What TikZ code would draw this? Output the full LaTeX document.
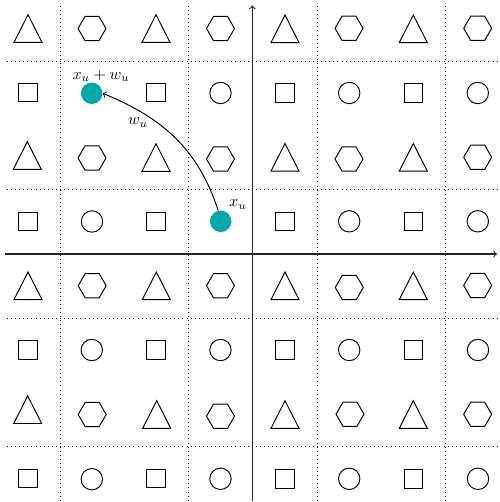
\documentclass[tikz,border=0pt]{standalone}
\usepackage{tikz}
\definecolor{tealc}{RGB}{0,170,170}
\tikzset{
  shapeline/.style={draw=black, line width=0.6pt, line join=miter},
  dotline/.style={draw=black, line width=0.55pt, dotted},
  axisline/.style={draw=black!85, line width=0.65pt},
  arrowline/.style={draw=black, line width=0.6pt},
  tealdot/.style={circle, fill=tealc, draw=none, minimum size=13.4pt, inner sep=0pt},
  lab/.style={inner sep=0pt},
  tri/.pic={\draw[shapeline] (0,-13.8) -- (14,13.8) -- (-14,13.8) -- cycle;},
  hex/.pic={\draw[shapeline] (14,0) -- (7,12.1) -- (-7,12.1) -- (-14,0) -- (-7,-12.1) -- (7,-12.1) -- cycle;},
  sqr/.pic={\draw[shapeline] (-9.35,-9.35) rectangle (9.35,9.35);},
  rnd/.pic={\draw[shapeline] (0,0) circle[radius=10.7];}
}
\begin{document}
\begin{tikzpicture}[x=0.625pt,y=-0.625pt]
\useasboundingbox (0,0) rectangle (500,502);
% dotted grid
\foreach \gx in {60,188.7,317.7,445.7} {\draw[dotline] (\gx,6) -- (\gx,501);}
\foreach \gy in {61,189.3,318.3,446.7} {\draw[dotline] (7,\gy) -- (500,\gy);}
% axes
\coordinate (axL) at (5,254);
\coordinate (axR) at (497,254);
\coordinate (axB) at (252.3,501);
\coordinate (axT) at (252.3,5.5);
\draw[axisline,->] (axL) -- (axR);
\draw[axisline,->] (axB) -- (axT);
% triangles
\foreach \px/\py in {28/28.5,156/28.5,285/28.8,413.3/28.8,
  27.3/155.5,156/157.5,285/157.3,413.3/157.3,
  28/285.8,156.3/285.8,285/285.8,413.3/285.8,
  27.7/409.7,156.7/414.5,285/414.5,413.3/414.5}
  {\pic at (\px,\py) {tri};}
% hexagons
\foreach \px/\py in {92/28.5,220.5/28.5,349/28.3,477.7/28.3,
  92/158,220.5/159,349/159,477.7/157.3,
  92.2/285.7,220.5/285.7,349.3/287.5,477.7/285.5,
  92.2/414.5,220.5/416.2,350/414.2,477.7/414.3}
  {\pic at (\px,\py) {hex};}
% squares
\foreach \px/\py in {27.7/92.5,156.3/92.5,284.8/92.7,413.5/92.7,
  27.7/221.5,156/221.5,284.8/221.5,413.5/221.5,
  27.7/350,156.3/350,284.8/350,413.5/350,
  27.7/478.5,156.3/478.5,284.8/478.8,413.5/478.8}
  {\pic at (\px,\py) {sqr};}
% circles
\foreach \px/\py in {220.5/93,349.2/93,477.8/93,
  92/221.5,349.2/221.3,477.8/221.3,
  91.8/350,220.5/350,349.2/350,478/350,
  91.8/479.2,220.5/478.8,349.2/478.8,478/478.8}
  {\pic at (\px,\py) {rnd};}
% teal points
\node[tealdot] (xw) at (91.7,93.3) {};
\node[tealdot] (xu) at (220.7,221.3) {};
\draw[arrowline,->] (xu.103) .. controls (198,149) and (163,118) .. (xw.east);
% labels
\node[lab] (lxu) at (238,204.5) {$x_u$};
\node[lab] (lwu) at (138,122.5) {$w_u$};
\node[lab] (lxw) at (101,76) {$x_u + w_u$};
\end{tikzpicture}
\end{document}
